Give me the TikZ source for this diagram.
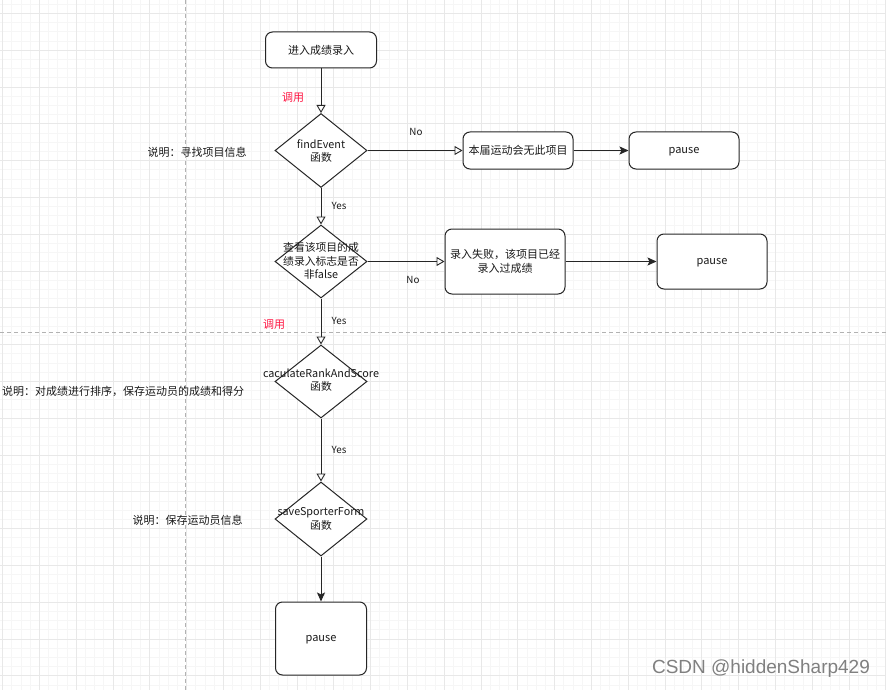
\documentclass[tikz,border=0pt]{standalone}
\usepackage{fontspec}
\setmainfont{Noto Sans CJK SC}
\newfontfamily\wmfont{Liberation Sans}
\usetikzlibrary{arrows.meta,shapes.geometric}
\definecolor{lineblk}{HTML}{262626}
\definecolor{txt}{HTML}{1A1A1A}
\definecolor{callred}{HTML}{FF1744}
\definecolor{gridminor}{HTML}{F6F6F6}
\definecolor{gridmajor}{HTML}{E8E8E8}
\begin{document}
\begin{tikzpicture}[x=1pt,y=-1pt,
  box/.style={draw=lineblk, line width=1pt, rounded corners=7pt, inner sep=0pt, align=center, text=txt, font=\fontsize{11}{14}\selectfont},
  dia/.style={draw=lineblk, diamond, line width=1pt, minimum width=92pt, minimum height=74pt, inner sep=0pt, fill=white},
  diatext/.style={align=center, text=txt, inner sep=0pt, font=\fontsize{10.8}{13.5}\selectfont},
  note/.style={text=txt, inner sep=0pt, font=\fontsize{11}{13}\selectfont},
  lbl/.style={text=txt, inner sep=0pt, font=\fontsize{9.8}{11}\selectfont},
  call/.style={text=callred, inner sep=0pt, font=\fontsize{11}{13}\selectfont},
  openarr/.style={draw=lineblk, line width=1pt, -{Triangle[open, length=8pt, width=9pt, line width=0.9pt]}},
  fillarr/.style={draw=lineblk, line width=1pt, -{Stealth[length=9pt, width=8pt, inset=2pt]}}
]
\useasboundingbox (0,0) rectangle (886,690);
\fill[white] (0,0) rectangle (886,690);
% grid
\foreach \k in {0,...,96} {
  \draw[gridminor, line width=0.6pt] ({2.5+9.2*\k},0) -- ({2.5+9.2*\k},690);
}
\foreach \k in {-1,...,73} {
  \draw[gridminor, line width=0.6pt] (0,{13.3+9.2*\k}) -- (886,{13.3+9.2*\k});
}
\foreach \k in {0,...,24} {
  \draw[gridmajor, line width=0.7pt] ({2.5+36.8*\k},0) -- ({2.5+36.8*\k},690);
}
\foreach \k in {0,...,18} {
  \draw[gridmajor, line width=0.7pt] (0,{13.3+36.8*\k}) -- (886,{13.3+36.8*\k});
}
% page breaks
\draw[black!30, line width=0.8pt, dash pattern=on 4pt off 3pt] (185,0) -- (185,690);
\draw[black!30, line width=0.8pt, dash pattern=on 4pt off 3pt] (0,332) -- (886,332);

% nodes
\node[box, minimum width=111pt, minimum height=36pt, fill=white] (b1) at (321,50) {进入成绩录入};
\node[dia] (d1) at (321,150.5) {};
\node[diatext] (d1t) at (321,151) {findEvent\\函数};
\node[box, minimum width=110pt, minimum height=37pt, fill=white] (b2) at (518,150.5) {本届运动会无此项目};
\node[box, minimum width=110pt, minimum height=37pt, fill=white] (p1) at (684,150.5) {\vphantom{进}pause};
\node[dia, minimum height=73pt] (d2) at (321,261.5) {};
\node[diatext] (d2t) at (321,261) {查看该项目的成\\绩录入标志是否\\非false};
\node[box, minimum width=120pt, minimum height=65pt, fill=white] (b3) at (505,261.5) {录入失败，该项目已经\\录入过成绩};
\node[box, minimum width=110pt, minimum height=55pt, fill=white] (p2) at (712,261.5) {\vphantom{进}pause};
\node[dia, minimum height=73pt] (d3) at (321,381.5) {};
\node[diatext] (d3t) at (321,380) {caculateRankAndScore\\函数};
\node[dia] (d4) at (321,519) {};
\node[diatext] (d4t) at (321,519) {saveSporterForm\\函数};
\node[box, minimum width=91pt, minimum height=73pt, fill=white] (p3) at (321,638.5) {\vphantom{进}pause};

% notes
\node[note] (n1) at (197,152) {说明：寻找项目信息};
\node[note] (n2) at (123,391) {说明：对成绩进行排序，保存运动员的成绩和得分};
\node[note] (n3) at (187.5,520) {说明：保存运动员信息};

% connectors
\draw[openarr] (b1) -- (d1);
\draw[openarr] (d1.east) -- (b2.west);
\draw[fillarr] (b2) -- (p1);
\draw[openarr] (d1.south) -- (d2.north);
\draw[openarr] (d2.east) -- (b3.west);
\draw[fillarr] (b3) -- (p2);
\draw[openarr] (d2.south) -- (d3.north);
\draw[openarr] (d3.south) -- (d4.north);
\draw[fillarr] (d4.south) -- (p3.north);

% labels
\node[call] (c1) at (293,97) {调用};
\node[call] (c2) at (274,324) {调用};
\node[lbl] (l1) at (416,132) {No};
\node[lbl] (l2) at (339,206) {Yes};
\node[lbl] (l3) at (413,280) {No};
\node[lbl] (l4) at (339,321) {Yes};
\node[lbl] (l5) at (339,450) {Yes};

% watermark
\node[text=black!50, inner sep=0pt, font=\wmfont\fontsize{19}{22}\selectfont] (wm) at (761,669) {CSDN @hiddenSharp429};
\end{tikzpicture}
\end{document}
